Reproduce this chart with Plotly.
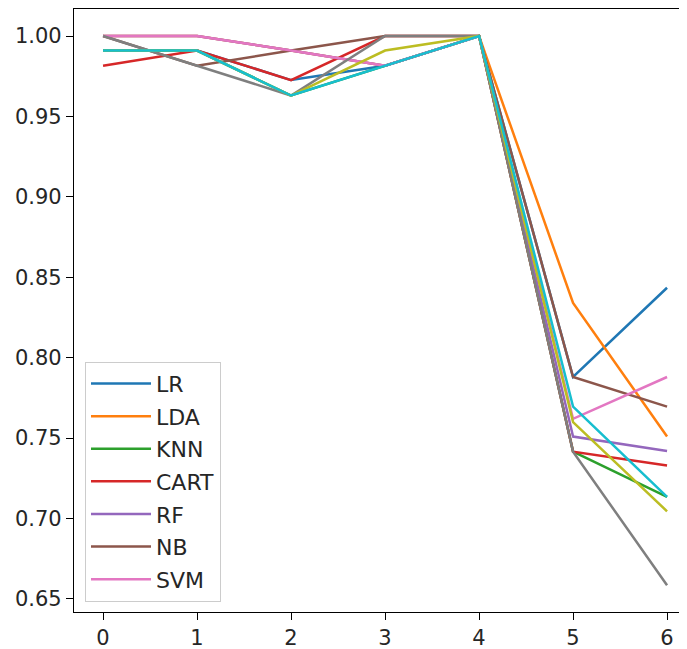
import plotly.graph_objects as go

x_vals = [0, 1, 2, 3, 4, 5, 6]

names = ["LR", "LDA", "KNN", "CART", "RF", "NB", "SVM", "", "", ""]
colors = ["#1f77b4", "#ff7f0e", "#2ca02c", "#d62728", "#9467bd",
          "#8c564b", "#e377c2", "#7f7f7f", "#bcbd22", "#17becf"]

lr = [0.991, 0.991, 0.9726, 0.9815, 1.0, 0.788, 0.8435]
lda = [1.0, 1.0, 0.991, 0.9815, 1.0, 0.834, 0.751]
knn = [0.991, 0.991, 0.963, 0.9815, 1.0, 0.7416, 0.7135]
cart = [0.9815, 0.991, 0.9726, 1.0, 1.0, 0.7416, 0.733]
rf = [1.0, 1.0, 0.991, 0.9815, 1.0, 0.751, 0.742]
nb = [1.0, 0.9815, 0.991, 1.0, 1.0, 0.788, 0.7696]
svm = [1.0, 1.0, 0.991, 0.9815, 1.0, 0.762, 0.788]
s8 = [1.0, 0.9815, 0.963, 1.0, 1.0, 0.7416, 0.6585]
s9 = [0.991, 0.991, 0.963, 0.991, 1.0, 0.760, 0.7045]
s10 = [0.991, 0.991, 0.963, 0.9815, 1.0, 0.7696, 0.7135]

series = [lr, lda, knn, cart, rf, nb, svm, s8, s9, s10]

y_ticks = [0.65, 0.70, 0.75, 0.80, 0.85, 0.90, 0.95, 1.00]
x_ticks = [0, 1, 2, 3, 4, 5, 6]

fig = go.Figure()
for i, (nm, col, ys) in enumerate(zip(names, colors, series)):
    fig.add_trace(go.Scatter(
        x=x_vals, y=ys, mode="lines", name=nm,
        line=dict(color=col, width=2.5),
        showlegend=(i < 7),
        legendgroup=f"g{i}",
    ))

axis_common = dict(
    showline=True, linecolor="#000000", linewidth=1.3, mirror=True,
    ticks="outside", ticklen=7, tickwidth=1.3, tickcolor="#000000",
    showgrid=False, zeroline=False, automargin=False,
    tickfont=dict(family="DejaVu Sans", size=21, color="#262626"),
)

fig.update_layout(
    width=687, height=649,
    margin=dict(l=66, r=10, t=1, b=45),
    paper_bgcolor="white", plot_bgcolor="white",
    xaxis=dict(range=[-0.309, 6.191], tickvals=x_ticks, **axis_common),
    yaxis=dict(range=[0.6419, 1.0168], tickvals=y_ticks,
               ticktext=[f"{v:.2f}" for v in y_ticks], **axis_common),
    legend=dict(
        x=0.018, y=0.017, xanchor="left", yanchor="bottom",
        bgcolor="rgba(255,255,255,0.8)", bordercolor="#cccccc", borderwidth=1,
        font=dict(family="DejaVu Sans", size=22, color="#262626"),
        tracegroupgap=1, itemwidth=60,
    ),
)

fig.write_html("out.html")
